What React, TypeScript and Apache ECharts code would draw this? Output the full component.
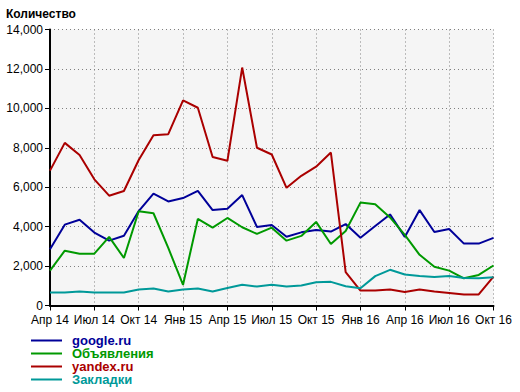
import React, { useEffect, useRef } from "react";
import * as echarts from "echarts";

const monthNames = ["Янв", "Фев", "Мар", "Апр", "Май", "Июн", "Июл", "Авг", "Сен", "Окт", "Ноя", "Дек"];

// Monthly categories Apr 2014 .. Oct 2016
const categories: string[] = [];
for (let y = 14, m = 3; y < 16 || (y === 16 && m <= 9); ) {
  categories.push(monthNames[m] + " " + y);
  m++;
  if (m === 12) { m = 0; y++; }
}

const googleValues = [2850, 4100, 4350, 3700, 3290, 3540, 4790, 5670, 5280, 5450, 5810, 4840, 4910, 5600, 3980, 4080, 3490, 3710, 3830, 3750, 4130, 3440, 4030, 4620, 3480, 4840, 3730, 3880, 3140, 3140, 3430];
const adsValues = [1770, 2780, 2630, 2630, 3480, 2410, 4780, 4680, 2920, 1050, 4390, 3950, 4440, 3970, 3630, 3950, 3290, 3530, 4240, 3120, 3780, 5220, 5130, 4470, 3580, 2570, 1970, 1770, 1380, 1550, 2030];
const yandexValues = [6840, 8250, 7630, 6400, 5570, 5810, 7380, 8640, 8690, 10400, 10030, 7530, 7340, 12070, 8000, 7660, 5970, 6580, 7040, 7760, 1690, 760, 760, 810, 690, 810, 710, 640, 560, 560, 1470];
const bookmarksValues = [660, 660, 710, 660, 660, 660, 810, 860, 710, 810, 860, 710, 890, 1050, 960, 1050, 960, 1010, 1180, 1200, 980, 880, 1490, 1810, 1570, 1500, 1450, 1500, 1400, 1380, 1430];

const seriesNames = ["google.ru", "Объявления", "yandex.ru", "Закладки"];
const seriesColors = ["#000099", "#009900", "#aa0000", "#009999"];
const seriesData = [googleValues, adsValues, yandexValues, bookmarksValues];

const yTicks = { min: 0, max: 14000, interval: 2000 };

const FONT = "'Liberation Sans', Arial, sans-serif";

export default function App() {
  const ref = useRef<HTMLDivElement>(null);
  useEffect(() => {
    if (!ref.current) return;
    const chart = echarts.init(ref.current, undefined, { renderer: "svg" });
    chart.setOption({
      animation: false,
      backgroundColor: "#ffffff",
      textStyle: { fontFamily: FONT },
      title: {
        text: "Количество",
        left: 1,
        top: 3,
        textStyle: { fontSize: 12, fontWeight: "bold", color: "#000", fontFamily: FONT },
      },
      grid: {
        left: 50,
        right: 26.5,
        top: 29.5,
        bottom: 86.5,
        show: true,
        backgroundColor: "#f5f5f5",
        borderWidth: 0,
      },
      legend: {
        orient: "vertical",
        left: 31,
        top: 334,
        height: 100,
        padding: 0,
        itemWidth: 31,
        itemHeight: 2,
        itemGap: 0,
        icon: "rect",
        selectedMode: false,
        textStyle: { fontSize: 13, fontWeight: "bold", lineHeight: 12.5, height: 12.5, padding: [0, 0, 0, 5], fontFamily: FONT },
        data: seriesNames.map((n, i) => ({ name: n, textStyle: { color: seriesColors[i] } })),
      },
      xAxis: {
        type: "category",
        data: categories,
        boundaryGap: false,
        axisLine: { lineStyle: { color: "#000", width: 2 } },
        axisTick: { show: true, interval: 2, length: 5, lineStyle: { color: "#000", width: 1 } },
        axisLabel: { interval: 2, color: "#000", fontSize: 12, margin: 8, fontFamily: FONT },
        splitLine: { show: true, interval: 2, lineStyle: { color: "#808080", type: [1, 3], width: 1 } },
      },
      yAxis: {
        type: "value",
        min: yTicks.min,
        max: yTicks.max,
        interval: yTicks.interval,
        axisLine: { show: true, lineStyle: { color: "#000", width: 2 } },
        axisTick: { show: true, length: 5, lineStyle: { color: "#000", width: 1 } },
        axisLabel: {
          color: "#000",
          fontSize: 12,
          margin: 7,
          fontFamily: FONT,
          formatter: (v: number) => v.toLocaleString("en-US"),
        },
        splitLine: { show: true, lineStyle: { color: "#808080", type: [1, 3], width: 1 } },
      },
      series: seriesNames.map((n, i) => ({
        name: n,
        type: "line",
        data: seriesData[i],
        symbol: "none",
        lineStyle: { color: seriesColors[i], width: 2 },
        itemStyle: { color: seriesColors[i] },
      })),
    });
    return () => chart.dispose();
  }, []);
  return <div ref={ref} style={{ width: 520, height: 392, position: "absolute", left: 0, top: 0 }} />;
}
